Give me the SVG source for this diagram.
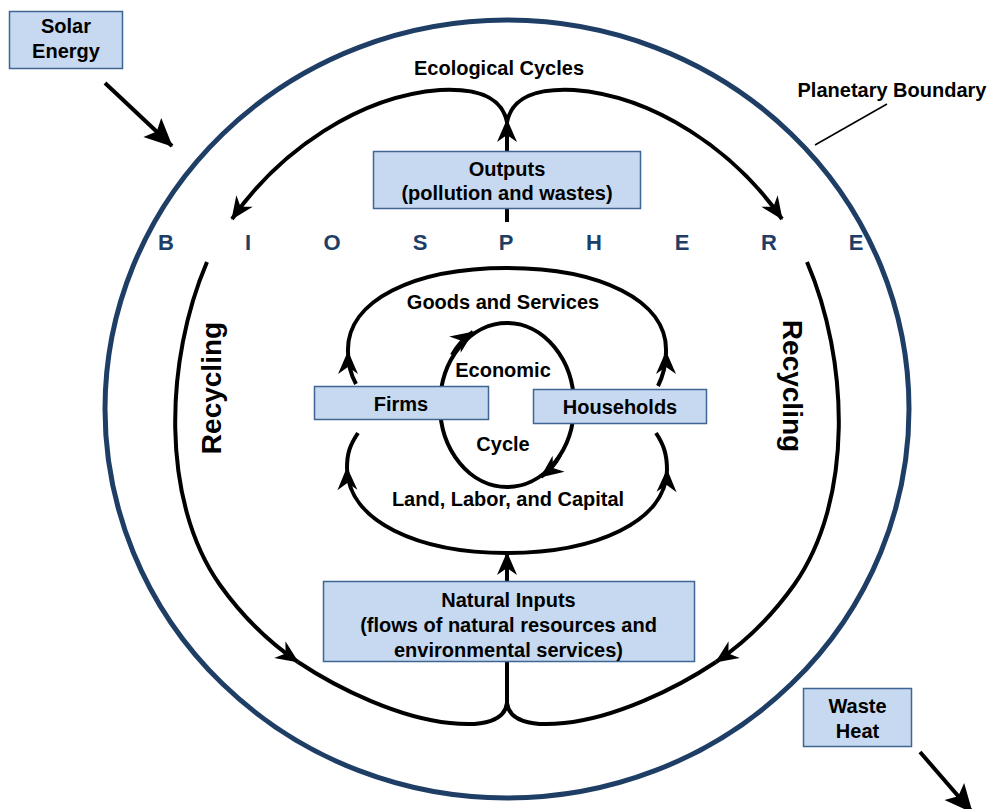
<svg xmlns="http://www.w3.org/2000/svg" width="991" height="809" viewBox="0 0 991 809">
<defs>
<style>
.box{fill:#c6d9f0;stroke:#3f6593;stroke-width:1.5}
.t{font-family:"Liberation Sans",Arial,sans-serif;font-weight:bold;font-size:20px;fill:#000;text-anchor:middle}
.bio{font-family:"Liberation Sans",Arial,sans-serif;font-weight:bold;font-size:22px;fill:#1f3e66;text-anchor:middle}
.flow{fill:none;stroke:#000;stroke-width:4}
.navy{fill:none;stroke:#1f3e66;stroke-width:5}
</style>
<marker id="ah" markerUnits="userSpaceOnUse" markerWidth="26" markerHeight="26" viewBox="-24 -12 26 24" refX="0" refY="0" orient="auto">
<path d="M1,0 L-22,-10 L-15,0 L-22,10 Z" fill="#000"/>
</marker>
<marker id="big" markerUnits="userSpaceOnUse" markerWidth="32" markerHeight="32" viewBox="-30 -15 32 30" refX="0" refY="0" orient="auto">
<path d="M1,0 L-27,-13 L-21,0 L-27,13 Z" fill="#000"/>
</marker>
</defs>
<rect width="991" height="809" fill="#fff"/>

<g id="planet">
<ellipse class="navy" cx="507" cy="409" rx="402" ry="389"/>
<line x1="815" y1="145" x2="887" y2="104" stroke="#000" stroke-width="1.5"/>
<text class="t" x="892" y="97">Planetary Boundary</text>
</g>

<g id="biosphere">
<text class="bio" x="166" y="250">B</text>
<text class="bio" x="248" y="250">I</text>
<text class="bio" x="332" y="250">O</text>
<text class="bio" x="420" y="250">S</text>
<text class="bio" x="506" y="250">P</text>
<text class="bio" x="594" y="250">H</text>
<text class="bio" x="682" y="250">E</text>
<text class="bio" x="769" y="250">R</text>
<text class="bio" x="856" y="250">E</text>
</g>

<g id="connectors">
<line class="flow" x1="105" y1="83" x2="172" y2="146" stroke-width="5" marker-end="url(#big)"/>
<line class="flow" x1="920" y1="752" x2="972" y2="812" stroke-width="5" marker-end="url(#big)"/>
<path class="flow" d="M507,222 L507,120" marker-end="url(#ah)"/>
<path class="flow" d="M507,122 C502,98 480,88 440,90 C360,96 280,150 232,219" marker-end="url(#ah)"/>
<path class="flow" d="M507,122 C512,98 534,88 574,90 C654,96 734,150 782,219" marker-end="url(#ah)"/>
<path class="flow" d="M207,262 C165,360 160,500 220,585 C245,620 270,643 298,662" marker-end="url(#ah)"/>
<path class="flow" d="M298,662 C340,690 400,718 450,723 C485,727 505,720 507,703"/>
<path class="flow" d="M807,262 C849,360 854,500 794,585 C769,620 744,643 716,662" marker-end="url(#ah)"/>
<path class="flow" d="M716,662 C674,690 614,718 564,723 C529,727 509,720 507,703"/>
<path class="flow" d="M507,703 L507,553" marker-end="url(#ah)"/>
<path class="flow" d="M356,384 C351,375 348,366 348,352" marker-end="url(#ah)"/>
<path class="flow" d="M658,386 C663,376 666,366 666,352" marker-end="url(#ah)"/>
<path class="flow" d="M348,352 C346,300 415,268 507,268 C599,268 668,300 666,352"/>
<path class="flow" d="M507,553 C419,553 348,522 347,468" marker-end="url(#ah)"/>
<path class="flow" d="M347,468 C347,453 350,445 358,433"/>
<path class="flow" d="M507,553 C595,553 666,522 667,470" marker-end="url(#ah)"/>
<path class="flow" d="M667,470 C667,455 664,445 656,433"/>
<ellipse class="flow" cx="507" cy="405" rx="67" ry="82"/>
<path class="flow" d="M452,355 C457,346 463,339 473,332" marker-end="url(#ah)"/>
<path class="flow" d="M560,455 C556,464 549,471 541,477" marker-end="url(#ah)"/>
</g>

<g id="solar">
<rect class="box" x="9.5" y="11.5" width="113" height="57"/>
<text class="t" x="66" y="33">Solar</text>
<text class="t" x="66" y="58">Energy</text>
</g>

<g id="waste">
<rect class="box" x="803.5" y="688.5" width="108" height="58"/>
<text class="t" x="857.5" y="713">Waste</text>
<text class="t" x="857.5" y="738">Heat</text>
</g>

<g id="ecological">
<text class="t" x="499" y="75">Ecological Cycles</text>
</g>

<g id="outputs">
<rect class="box" x="373.5" y="151.5" width="267" height="57"/>
<text class="t" x="507" y="176">Outputs</text>
<text class="t" x="507" y="200">(pollution and wastes)</text>
</g>

<g id="recycling-left">
<text class="t" style="font-size:28px" transform="translate(211,388) rotate(-90)" y="10">Recycling</text>
</g>
<g id="recycling-right">
<text class="t" style="font-size:28px" transform="translate(793,386) rotate(90)" y="10">Recycling</text>
</g>

<g id="labels">
<text class="t" x="503" y="309">Goods and Services</text>
<text class="t" x="503" y="377">Economic</text>
<text class="t" x="503" y="451">Cycle</text>
<text class="t" x="508" y="506">Land, Labor, and Capital</text>
</g>

<g id="firms">
<rect class="box" x="314.5" y="386.5" width="174" height="33"/>
<text class="t" x="401" y="411">Firms</text>
</g>

<g id="households">
<rect class="box" x="533.5" y="389.5" width="173" height="34"/>
<text class="t" x="620" y="414">Households</text>
</g>

<g id="natural">
<rect class="box" x="323.5" y="581.5" width="371" height="80"/>
<text class="t" x="508.5" y="607">Natural Inputs</text>
<text class="t" x="508.5" y="632">(flows of natural resources and</text>
<text class="t" x="508.5" y="657">environmental services)</text>
</g>
</svg>
